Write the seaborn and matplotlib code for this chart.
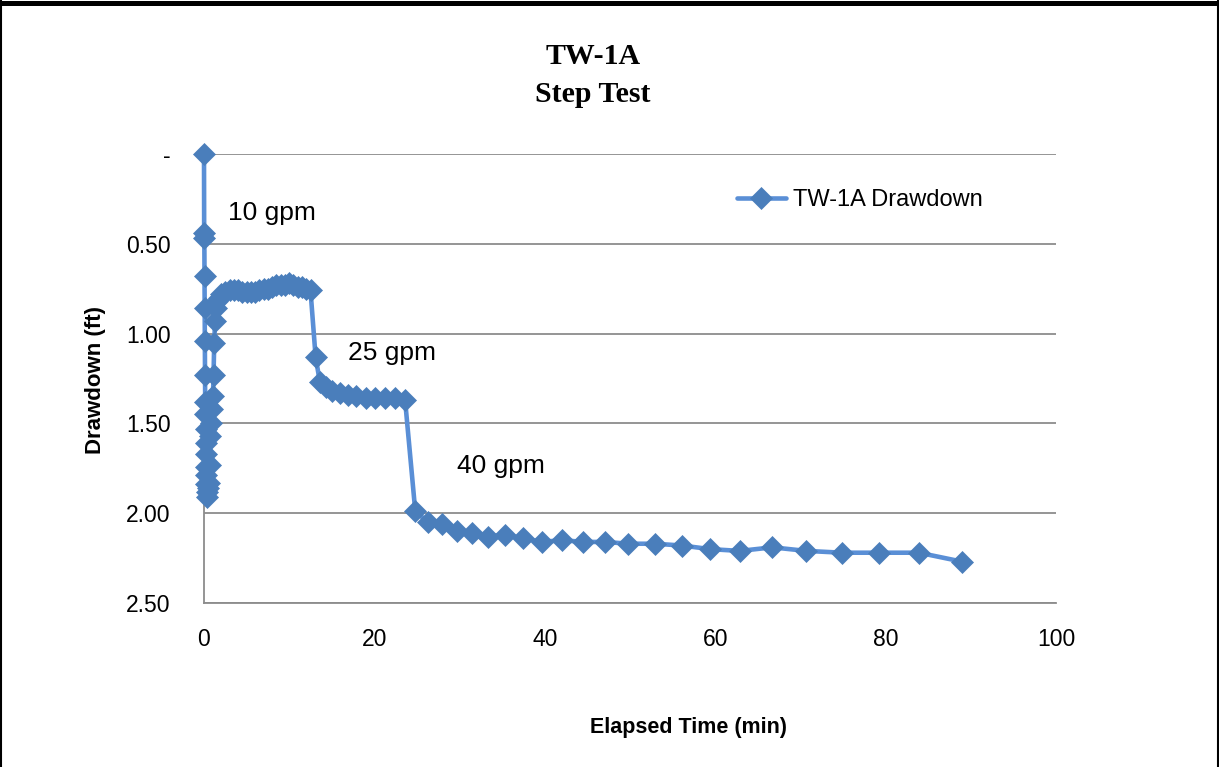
import matplotlib
matplotlib.use("Agg")
import matplotlib.pyplot as plt
from matplotlib.lines import Line2D
import seaborn as sns
import pandas as pd

# ---- data (elapsed time in minutes, drawdown in feet) ----
step1_down_time = [0.0, 0.02, 0.04, 0.06, 0.08, 0.10, 0.12, 0.14, 0.16, 0.18,
                   0.20, 0.22, 0.24, 0.26, 0.28, 0.30, 0.32]
step1_down_dd = [0.0, 0.44, 0.47, 0.68, 0.86, 1.04, 1.23, 1.38, 1.45, 1.53,
                 1.61, 1.67, 1.74, 1.79, 1.84, 1.88, 1.91]
step1_rec_time = [0.45, 0.55, 0.65, 0.75, 0.85, 0.95, 1.05, 1.12, 1.2, 1.3, 1.4]
step1_rec_dd = [1.86, 1.83, 1.73, 1.57, 1.50, 1.42, 1.35, 1.23, 1.05, 0.93, 0.86]
step1_plat_time = [1.5, 1.75, 2.0, 2.5, 3.0, 3.5, 4.0, 4.5, 5.0, 5.5, 6.0, 6.5,
                   7.0, 7.5, 8.0, 8.5, 9.0, 9.5, 10.0, 10.5, 11.0, 11.5, 12.0, 12.5]
step1_plat_dd = [0.82, 0.80, 0.78, 0.77, 0.76, 0.76, 0.76, 0.77, 0.77, 0.77, 0.77, 0.76,
                 0.75, 0.75, 0.74, 0.73, 0.73, 0.73, 0.72, 0.73, 0.74, 0.74, 0.75, 0.76]
step2_time = [13.1, 13.6, 14.3, 15.0, 16.0, 16.9, 17.8, 19.0, 20.1, 21.2, 22.4, 23.6]
step2_dd = [1.13, 1.27, 1.30, 1.32, 1.33, 1.34, 1.35, 1.36, 1.36, 1.36, 1.36, 1.37]
step3_time = [24.8, 26.3, 27.9, 29.7, 31.5, 33.3, 35.3, 37.4, 39.7, 42.0, 44.5, 47.1,
              49.8, 52.9, 56.1, 59.4, 62.9, 66.7, 70.7, 74.9, 79.2, 83.9, 89.0]
step3_dd = [1.99, 2.05, 2.06, 2.10, 2.11, 2.13, 2.12, 2.14, 2.16, 2.15, 2.16, 2.16,
            2.17, 2.17, 2.18, 2.20, 2.21, 2.19, 2.21, 2.22, 2.22, 2.22, 2.27]

x_ticks = [0, 20, 40, 60, 80, 100]
y_ticks = [0.0, 0.5, 1.0, 1.5, 2.0, 2.5]
y_tick_labels = ["-", "0.50", "1.00", "1.50", "2.00", "2.50"]
rate_labels = ["10 gpm", "25 gpm", "40 gpm"]
rate_label_pos = [(2.8, 0.33), (16.9, 1.11), (29.7, 1.735)]
series_name = "TW-1A Drawdown"

time_all = step1_down_time + step1_rec_time + step1_plat_time + step2_time + step3_time
dd_all = step1_down_dd + step1_rec_dd + step1_plat_dd + step2_dd + step3_dd
df = pd.DataFrame({"Elapsed Time (min)": time_all, "Drawdown (ft)": dd_all})

sns.set_theme(style="white")
plt.rcParams["font.family"] = ["Liberation Sans", "DejaVu Sans"]
plt.rcParams["text.color"] = "black"
plt.rcParams["axes.labelcolor"] = "black"
plt.rcParams["xtick.labelcolor"] = "black"
plt.rcParams["ytick.labelcolor"] = "black"

W, H = 1219, 767
fig = plt.figure(figsize=(W / 100, H / 100), dpi=100)
fig.patch.set_facecolor("white")
ax = fig.add_axes([204 / W, 1 - 603 / H, (1056 - 204) / W, (603 - 154) / H])

line_col = "#5A8FD6"
mark_col = "#4A7EBB"
sns.lineplot(data=df, x="Elapsed Time (min)", y="Drawdown (ft)", ax=ax,
             sort=False, estimator=None, color=line_col, linewidth=3.3,
             marker="D", markersize=11.5, markerfacecolor=mark_col,
             markeredgecolor=mark_col, markeredgewidth=0.5,
             label=series_name, clip_on=False, zorder=5)

ax.set_xlim(0, 100)
ax.set_ylim(2.5, 0)
ax.set_xticks(x_ticks)
ax.set_xticklabels([str(v) for v in x_ticks])
ax.set_yticks(y_ticks)
ax.set_yticklabels(y_tick_labels)

grid_col = "#8C8C8C"
ax.yaxis.grid(True, color=grid_col, linewidth=1.3)
ax.xaxis.grid(False)
for s in ["top", "right"]:
    ax.spines[s].set_visible(False)
for s in ["left", "bottom"]:
    ax.spines[s].set_color(grid_col)
    ax.spines[s].set_linewidth(1.3)

ax.tick_params(axis="both", which="major", labelsize=16.5, colors=grid_col,
               labelcolor="black", direction="out", length=6, width=1.3)
ax.tick_params(axis="x", pad=12)
ax.tick_params(axis="y", pad=18)

ax.set_xlabel("")
ax.set_ylabel("")
fig.text(689 / W, 1 - 727 / H, "Elapsed Time (min)", ha="center", va="center",
         fontsize=15.5, fontweight="bold", color="black")
fig.text(95 / W, 1 - 380 / H, "Drawdown (ft)", ha="center", va="center",
         rotation=90, fontsize=16, fontweight="bold", color="black")

for lbl, (px, py) in zip(rate_labels, rate_label_pos):
    ax.text(px, py, lbl, ha="left", va="center", fontsize=19, color="black")

fig.text(593 / W, 1 - 56 / H, "TW-1A", ha="center", va="center", color="black",
         fontsize=21.5, fontweight="bold", family=["Liberation Serif", "DejaVu Serif"])
fig.text(593 / W, 1 - 95 / H, "Step Test", ha="center", va="center", color="black",
         fontsize=21.5, fontweight="bold", family=["Liberation Serif", "DejaVu Serif"])

leg = ax.legend(loc="center left", bbox_to_anchor=(0.625, 0.8976), frameon=False,
                fontsize=17, handlelength=2.1, handletextpad=0.3, borderpad=0,
                borderaxespad=0)
for t in leg.get_texts():
    t.set_color("black")

# outer black frame (top, left, right)
fig.add_artist(Line2D([0, 1], [1 - 2.5 / H, 1 - 2.5 / H], transform=fig.transFigure,
                      color="black", linewidth=3.6))
fig.add_artist(Line2D([1 / W, 1 / W], [0, 1], transform=fig.transFigure,
                      color="black", linewidth=1.5))
fig.add_artist(Line2D([1 - 1 / W, 1 - 1 / W], [0, 1], transform=fig.transFigure,
                      color="black", linewidth=1.5))

fig.savefig("out.png", dpi=100)
